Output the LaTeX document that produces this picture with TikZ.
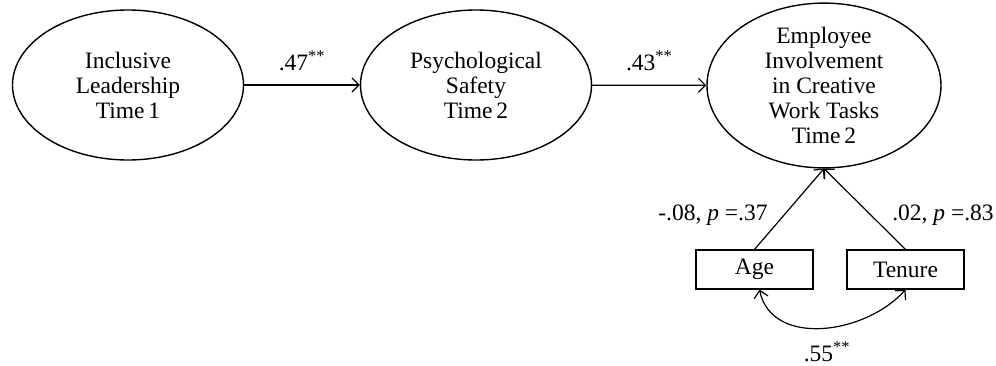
\documentclass[tikz,border=0pt]{standalone}
\usepackage{fontspec}
\setmainfont{Liberation Serif}
\usetikzlibrary{shapes.geometric,arrows.meta}
\begin{document}
\begin{tikzpicture}[x=1pt,y=-1pt,
  every node/.style={font=\fontsize{23.5}{25}\selectfont},
  latent/.style={ellipse,draw,line width=1.4pt,minimum width=231pt,minimum height=150pt,inner sep=0pt,align=center},
  obs/.style={rectangle,draw,line width=1.2pt,minimum width=117pt,minimum height=39pt,inner sep=0pt},
  tip/.style={Straight Barb[length=7pt,width=14pt,line width=1.2pt]},
  path/.style={line width=1.2pt,-{Straight Barb[length=7pt,width=14pt,line width=1.2pt]}},
  lbl/.style={inner sep=0pt}
]
\useasboundingbox (0,0) rectangle (996,365);
\node[latent] (il) at (128,85) {Inclusive\\Leadership\\Time\,1};
\node[latent] (ps) at (476,85) {Psychological\\Safety\\Time\,2};
\node[latent,minimum width=234pt,minimum height=148pt] (ei) at (824,85.5) {Employee\\Involvement\\in Creative\\Work Tasks\\Time\,2};
\node[obs] (age) at (754.5,269.5) {Age};
\node[obs] (ten) at (905.5,269.5) {Tenure};
\draw[path] (il) -- (ps) node[lbl,midway,above=14pt] {.47\textsuperscript{**}};
\draw[path] (ps) -- (ei) node[lbl,midway,above=14pt] {.43\textsuperscript{**}};
\draw[path] (age.north) -- (ei.south);
\draw[path] (ten.north) -- (ei.south);
\node[lbl] (la) at (713,215) {-.08, \textit{p} =.37};
\node[lbl] (lt) at (943,215) {.02, \textit{p} =.83};
\draw[line width=1.2pt,{Straight Barb[length=7pt,width=14pt,line width=1.2pt]}-{Straight Barb[length=7pt,width=14pt,line width=1.2pt]}]
  ([xshift=5pt]age.south) .. controls +(12,58) and +(-40,45) .. (ten.south);
\node[lbl] (lc) at (827,352) {.55\textsuperscript{**}};
\end{tikzpicture}
\end{document}
